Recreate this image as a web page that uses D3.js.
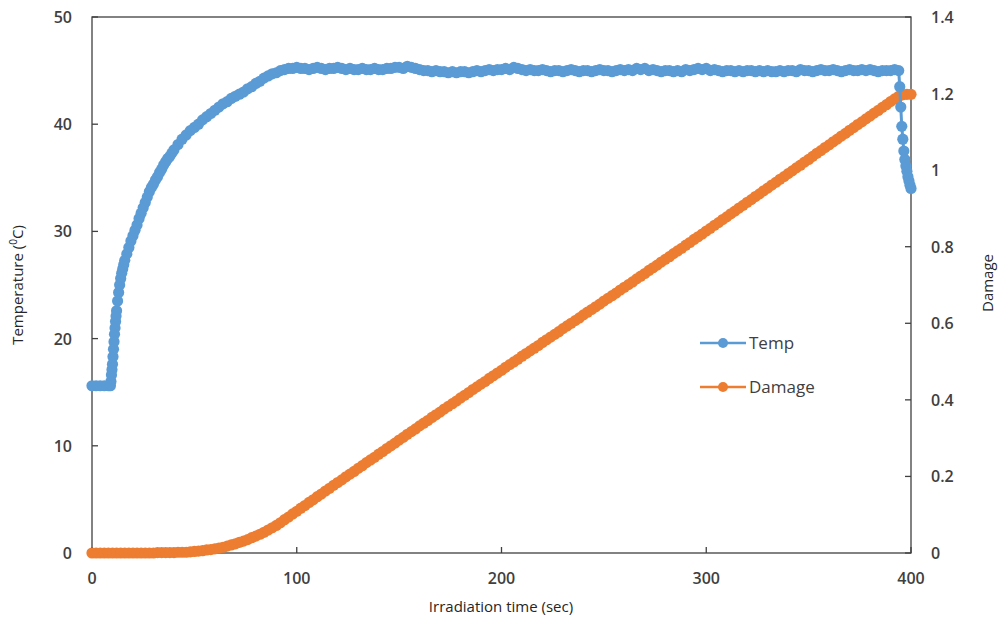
<html>
<head>
    <title>Temperature and damage</title>
    <script src="https://d3js.org/d3.v7.min.js" charSet="utf-8"></script>
    <style>
        body { margin: 0; background: #fff; }
        .axis-line { stroke: #404040; stroke-width: 1.3; fill: none; }
        .tick-label { font-family: "Open Sans", sans-serif; font-size: 16px; font-weight: 600; fill: #404040; }
        .axis-title { font-family: "Open Sans", sans-serif; font-size: 15px; fill: #262626; }
        .legend-text { font-family: "Open Sans", sans-serif; font-size: 17px; fill: #404040; }
    </style>
</head>
<body>
<div id="vis_container"></div>
<script>
    // temperature is logged more often where it changes fast (start and end)
    let tempTime = [].concat(
        d3.range(0, 9, 2),
        d3.range(9, 12, 0.25),
        d3.range(12, 16, 0.5),
        d3.range(16, 40, 1),
        d3.range(40, 394, 2),
        d3.range(394, 400.1, 0.5)
    );

    // Temperature (deg C)
    let temp = [
        15.6, 15.6, 15.6, 15.6, 15.6,
        15.6, 16.0, 16.6, 17.1, 17.6, 18.3, 19.0, 19.7, 20.4, 21.0, 21.6, 22.1,
        22.6, 23.5, 24.3, 25.0, 25.6, 26.1, 26.5, 26.9,
        27.3, 27.9, 28.5, 29.1, 29.6, 30.1, 30.6, 31.2, 31.7, 32.2, 32.7, 33.2,
        33.7, 34.1, 34.4, 34.8, 35.1, 35.5, 35.8, 36.2, 36.5, 36.8, 37.0, 37.3,
        37.6, 38.1, 38.6, 39.0, 39.4, 39.7, 40.0, 40.4, 40.7, 41.0,
        41.3, 41.6, 41.9, 42.1, 42.4, 42.6, 42.8, 43.0, 43.3, 43.5,
        43.8, 44.0, 44.3, 44.5, 44.7, 44.8, 45.0, 45.1, 45.2,
        45.2, 45.3, 45.2, 45.2, 45.1, 45.2, 45.3, 45.2, 45.1, 45.2,
        45.2, 45.3, 45.2, 45.1, 45.2, 45.1, 45.1, 45.2, 45.1, 45.1,
        45.2, 45.1, 45.1, 45.2, 45.2, 45.3, 45.3, 45.2, 45.4, 45.3,
        45.2, 45.1, 45.0, 45.0, 44.9, 45.0, 44.9, 44.9, 44.8, 44.9,
        44.8, 44.9, 44.9, 44.8, 44.9, 45.0, 44.9, 45.0, 45.1, 45.0,
        45.1, 45.1, 45.2, 45.1, 45.3, 45.2, 45.1, 45.0, 45.1, 45.0,
        45.0, 45.1, 45.0, 44.9, 45.0, 45.0, 44.9, 45.0, 45.1, 45.0,
        44.9, 45.0, 45.0, 44.9, 45.0, 45.1, 45.0, 45.0, 44.9, 45.0,
        45.1, 45.0, 45.1, 45.0, 45.2, 45.1, 45.2, 45.0, 45.1, 45.0,
        44.9, 45.0, 45.0, 44.9, 45.0, 44.9, 45.1, 45.0, 45.1, 45.2,
        45.1, 45.2, 45.0, 45.1, 45.0, 44.9, 45.0, 45.0, 44.9, 45.0,
        44.9, 45.0, 45.0, 44.9, 45.0, 44.9, 45.0, 44.9, 44.9, 45.0,
        44.9, 45.0, 45.0, 44.9, 45.1, 45.0, 45.0, 44.9, 45.0, 45.1,
        45.0, 45.0, 45.1, 45.0, 44.9, 45.0, 45.1, 45.0, 45.0, 45.1,
        45.0, 45.1, 45.0, 44.9, 45.0, 45.0, 45.0, 45.1,
        45.0, 43.5, 41.6, 39.8, 38.6, 37.5, 36.7, 36.1, 35.6, 35.1, 34.7, 34.3, 34.0
    ];

    // damage samples every 2 seconds, 0..400 sec
    let damageTime = d3.range(0, 401, 2);

    // Damage (right axis)
    let damage = [
        0, 0, 0, 0, 0, 0, 0, 0, 0, 0, 0, 0, 0, 0, 0, 0,
        0.001, 0.001, 0.001, 0.001, 0.001, 0.002, 0.002, 0.002, 0.003, 0.004,
        0.005, 0.006, 0.008, 0.009, 0.011, 0.013, 0.015, 0.018, 0.021, 0.024,
        0.028, 0.031, 0.035, 0.040, 0.044, 0.049, 0.054, 0.060, 0.066, 0.072,
        0.079, 0.087, 0.094, 0.102, 0.109,
        0.117, 0.124, 0.132, 0.139, 0.147, 0.154, 0.162, 0.169, 0.177, 0.184,
        0.191, 0.199, 0.206, 0.213, 0.221, 0.228, 0.236, 0.243, 0.250, 0.258,
        0.265, 0.273, 0.280, 0.287, 0.295, 0.302, 0.310, 0.317, 0.324, 0.332,
        0.339, 0.346, 0.354, 0.361, 0.368, 0.376, 0.383, 0.390, 0.397, 0.405,
        0.412, 0.419, 0.427, 0.434, 0.441, 0.448, 0.456, 0.463, 0.470, 0.477,
        0.485, 0.492, 0.499, 0.506, 0.514, 0.521, 0.528, 0.535, 0.542, 0.550,
        0.557, 0.564, 0.571, 0.578, 0.586, 0.593, 0.600, 0.607, 0.614, 0.622,
        0.629, 0.636, 0.643, 0.650, 0.658, 0.665, 0.672, 0.679, 0.687, 0.694,
        0.701, 0.708, 0.716, 0.723, 0.730, 0.738, 0.745, 0.752, 0.760, 0.767,
        0.774, 0.782, 0.789, 0.796, 0.804, 0.811, 0.819, 0.826, 0.833, 0.841,
        0.848, 0.856, 0.863, 0.871, 0.878, 0.886, 0.893, 0.901, 0.908, 0.916,
        0.923, 0.931, 0.938, 0.946, 0.953, 0.961, 0.968, 0.976, 0.983, 0.991,
        0.998, 1.006, 1.013, 1.021, 1.028, 1.036, 1.044, 1.051, 1.059, 1.066,
        1.074, 1.081, 1.089, 1.096, 1.104, 1.111, 1.119, 1.126, 1.134, 1.141,
        1.149, 1.156, 1.164, 1.171, 1.179, 1.186, 1.193, 1.197, 1.198, 1.198
    ];

    let xTicks = [0, 100, 200, 300, 400];
    let tempTicks = [0, 10, 20, 30, 40, 50];
    let damageTicks = [0, 0.2, 0.4, 0.6, 0.8, 1, 1.2, 1.4];
    let seriesNames = ["Temp", "Damage"];
    let seriesColors = ["#5B9BD5", "#ED7D31"];

    let width = 999, height = 625;
    let plotLeft = 92, plotRight = 911, plotTop = 17, plotBottom = 553;

    let svg = d3.select("#vis_container").append("svg")
        .attr("width", width)
        .attr("height", height);

    let x = d3.scaleLinear().domain([0, 400]).range([plotLeft, plotRight]);
    let yT = d3.scaleLinear().domain([0, 50]).range([plotBottom, plotTop]);
    let yD = d3.scaleLinear().domain([0, 1.4]).range([plotBottom, plotTop]);

    // frame
    svg.append("rect")
        .attr("class", "axis-line")
        .attr("x", plotLeft).attr("y", plotTop)
        .attr("width", plotRight - plotLeft).attr("height", plotBottom - plotTop);

    // ticks (inward) and labels
    svg.selectAll(".xt").data(xTicks).enter().append("line")
        .attr("class", "axis-line")
        .attr("x1", d => x(d)).attr("x2", d => x(d))
        .attr("y1", plotBottom).attr("y2", plotBottom - 6);
    svg.selectAll(".xl").data(xTicks).enter().append("text")
        .attr("class", "tick-label")
        .attr("x", d => x(d)).attr("y", 584)
        .attr("text-anchor", "middle")
        .text(d => d);

    svg.selectAll(".ytl").data(tempTicks).enter().append("line")
        .attr("class", "axis-line")
        .attr("x1", plotLeft).attr("x2", plotLeft + 6)
        .attr("y1", d => yT(d)).attr("y2", d => yT(d));
    svg.selectAll(".ylab").data(tempTicks).enter().append("text")
        .attr("class", "tick-label")
        .attr("x", 72).attr("y", d => yT(d) + 6)
        .attr("text-anchor", "end")
        .text(d => d);

    svg.selectAll(".ydl").data(damageTicks).enter().append("line")
        .attr("class", "axis-line")
        .attr("x1", plotRight).attr("x2", plotRight - 6)
        .attr("y1", d => yD(d)).attr("y2", d => yD(d));
    svg.selectAll(".ydlab").data(damageTicks).enter().append("text")
        .attr("class", "tick-label")
        .attr("x", 931).attr("y", d => yD(d) + 6)
        .attr("text-anchor", "start")
        .text(d => d);

    // axis titles
    svg.append("text")
        .attr("class", "axis-title")
        .attr("x", 501).attr("y", 612)
        .attr("text-anchor", "middle")
        .text("Irradiation time (sec)");

    let tt = svg.append("text")
        .attr("class", "axis-title")
        .attr("transform", "translate(23,285) rotate(-90)")
        .attr("text-anchor", "middle");
    tt.append("tspan").text("Temperature (");
    tt.append("tspan").attr("dy", -6).style("font-size", "10px").text("0");
    tt.append("tspan").attr("dy", 6).text("C)");

    svg.append("text")
        .attr("class", "axis-title")
        .attr("transform", "translate(993,283) rotate(-90)")
        .attr("text-anchor", "middle")
        .text("Damage");

    // series: damage underneath, temperature on top
    let dmgPts = damageTime.map((t, i) => [t, damage[i]]);
    let tmpPts = tempTime.map((t, i) => [t, temp[i]]);

    function drawSeries(pts, yScale, color) {
        svg.append("path")
            .datum(pts)
            .attr("fill", "none")
            .attr("stroke", color)
            .attr("stroke-width", 3)
            .attr("d", d3.line().x(d => x(d[0])).y(d => yScale(d[1])));
        svg.append("g").selectAll("circle").data(pts).enter().append("circle")
            .attr("cx", d => x(d[0]))
            .attr("cy", d => yScale(d[1]))
            .attr("r", 5.6)
            .attr("fill", color);
    }
    drawSeries(dmgPts, yD, seriesColors[1]);
    drawSeries(tmpPts, yT, seriesColors[0]);

    // legend
    let legend = svg.append("g").selectAll("g").data(seriesNames).enter().append("g")
        .attr("transform", (d, i) => "translate(700," + (343 + i * 44) + ")");
    legend.append("line")
        .attr("x1", 0).attr("x2", 46).attr("y1", 0).attr("y2", 0)
        .attr("stroke", (d, i) => seriesColors[i])
        .attr("stroke-width", 2.5);
    legend.append("circle")
        .attr("cx", 23).attr("cy", 0).attr("r", 5)
        .attr("fill", (d, i) => seriesColors[i]);
    legend.append("text")
        .attr("class", "legend-text")
        .attr("x", 49).attr("y", 6)
        .text(d => d);
</script>
</body>
</html>
